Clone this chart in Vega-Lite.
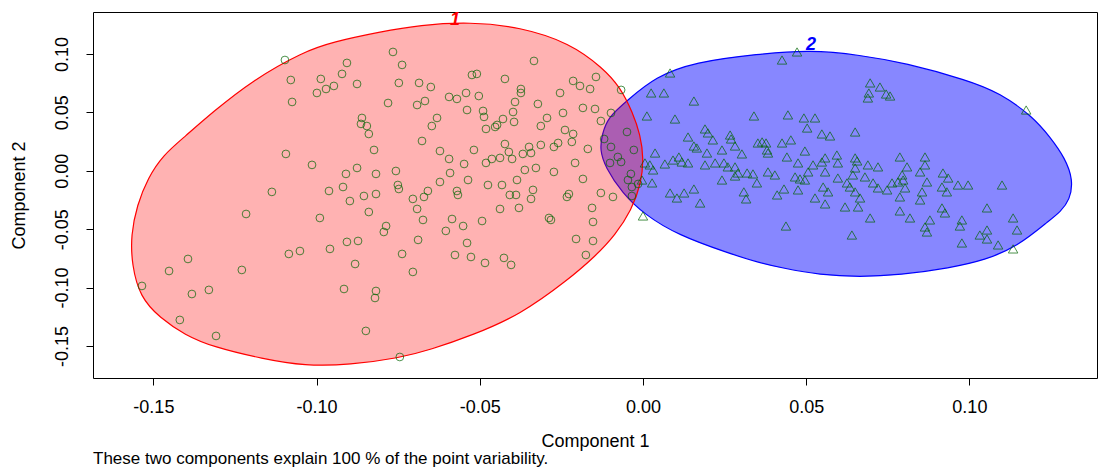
{
  "$schema": "https://vega.github.io/schema/vega-lite/v6.json",
  "width": 1004,
  "height": 366,
  "autosize": {"type": "none"},
  "padding": {"left": 93, "top": 12, "right": 2, "bottom": 94},
  "background": "white",
  "config": {
    "view": {"stroke": "black", "strokeWidth": 1},
    "font": "Liberation Sans",
    "axis": {"grid": false, "domain": false, "tickColor": "black", "tickSize": 7, "labelColor": "black", "titleColor": "black", "labelFont": "Liberation Sans", "titleFont": "Liberation Sans", "labelFontSize": 18, "titleFontSize": 18, "titleFontWeight": "normal"}
  },
  "title": {"text": "These two components explain 100 % of the point variability.", "orient": "bottom", "anchor": "start", "frame": "group", "fontSize": 17, "fontWeight": "normal", "font": "Liberation Sans", "color": "black", "offset": 1},
  "datasets": {
    "ell": [
      {"c":1,"i":0,"x":-0.0530,"y":0.1274},{"c":1,"i":1,"x":-0.0377,"y":0.1231},{"c":1,"i":2,"x":-0.0224,"y":0.1094},{"c":1,"i":3,"x":-0.0123,"y":0.0880},{"c":1,"i":4,"x":-0.0070,"y":0.0717},{"c":1,"i":5,"x":-0.0031,"y":0.0495},{"c":1,"i":6,"x":-0.0008,"y":0.0306},{"c":1,"i":7,"x":0.0002,"y":0.0110},{"c":1,"i":8,"x":-0.0005,"y":-0.0104},{"c":1,"i":9,"x":-0.0035,"y":-0.0336},{"c":1,"i":10,"x":-0.0085,"y":-0.0550},{"c":1,"i":11,"x":-0.0145,"y":-0.0729},{"c":1,"i":12,"x":-0.0230,"y":-0.0935},{"c":1,"i":13,"x":-0.0377,"y":-0.1234},{"c":1,"i":14,"x":-0.0521,"y":-0.1406},{"c":1,"i":15,"x":-0.0653,"y":-0.1534},{"c":1,"i":16,"x":-0.0745,"y":-0.1602},{"c":1,"i":17,"x":-0.0898,"y":-0.1662},{"c":1,"i":18,"x":-0.1036,"y":-0.1671},{"c":1,"i":19,"x":-0.1164,"y":-0.1611},{"c":1,"i":20,"x":-0.1318,"y":-0.1508},{"c":1,"i":21,"x":-0.1403,"y":-0.1406},{"c":1,"i":22,"x":-0.1480,"y":-0.1260},{"c":1,"i":23,"x":-0.1541,"y":-0.1080},{"c":1,"i":24,"x":-0.1566,"y":-0.0806},{"c":1,"i":25,"x":-0.1569,"y":-0.0550},{"c":1,"i":26,"x":-0.1550,"y":-0.0293},{"c":1,"i":27,"x":-0.1517,"y":-0.0062},{"c":1,"i":28,"x":-0.1470,"y":0.0135},{"c":1,"i":29,"x":-0.1405,"y":0.0289},{"c":1,"i":30,"x":-0.1318,"y":0.0503},{"c":1,"i":31,"x":-0.1195,"y":0.0777},{"c":1,"i":32,"x":-0.1042,"y":0.1017},{"c":1,"i":33,"x":-0.0950,"y":0.1103},{"c":1,"i":34,"x":-0.0806,"y":0.1188},{"c":1,"i":35,"x":-0.0683,"y":0.1248},
      {"c":2,"i":0,"x":0.0512,"y":0.1034},{"c":2,"i":1,"x":0.0665,"y":0.0991},{"c":2,"i":2,"x":0.0803,"y":0.0923},{"c":2,"i":3,"x":0.0993,"y":0.0777},{"c":2,"i":4,"x":0.1094,"y":0.0666},{"c":2,"i":5,"x":0.1195,"y":0.0461},{"c":2,"i":6,"x":0.1247,"y":0.0289},{"c":2,"i":7,"x":0.1293,"y":0.0110},{"c":2,"i":8,"x":0.1318,"y":-0.0079},{"c":2,"i":9,"x":0.1308,"y":-0.0250},{"c":2,"i":10,"x":0.1278,"y":-0.0353},{"c":2,"i":11,"x":0.1247,"y":-0.0421},{"c":2,"i":12,"x":0.1146,"y":-0.0652},{"c":2,"i":13,"x":0.1048,"y":-0.0764},{"c":2,"i":14,"x":0.0941,"y":-0.0832},{"c":2,"i":15,"x":0.0787,"y":-0.0892},{"c":2,"i":16,"x":0.0665,"y":-0.0909},{"c":2,"i":17,"x":0.0542,"y":-0.0892},{"c":2,"i":18,"x":0.0426,"y":-0.0832},{"c":2,"i":19,"x":0.0358,"y":-0.0789},{"c":2,"i":20,"x":0.0260,"y":-0.0704},{"c":2,"i":21,"x":0.0107,"y":-0.0550},{"c":2,"i":22,"x":0.0006,"y":-0.0378},{"c":2,"i":23,"x":-0.0064,"y":-0.0190},{"c":2,"i":24,"x":-0.0116,"y":0.0033},{"c":2,"i":25,"x":-0.0132,"y":0.0178},{"c":2,"i":26,"x":-0.0126,"y":0.0306},{"c":2,"i":27,"x":-0.0107,"y":0.0461},{"c":2,"i":28,"x":-0.0046,"y":0.0606},{"c":2,"i":29,"x":0.0037,"y":0.0803},{"c":2,"i":30,"x":0.0159,"y":0.0931},{"c":2,"i":31,"x":0.0352,"y":0.1000}
    ],
    "pts": [
      {"c":1,"x":-0.1097,"y":0.0948},{"c":1,"x":-0.1079,"y":0.0777},{"c":1,"x":-0.1075,"y":0.0589},{"c":1,"x":-0.1094,"y":0.0144},{"c":1,"x":-0.1137,"y":-0.0181},{"c":1,"x":-0.0766,"y":0.1017},{"c":1,"x":-0.0907,"y":0.0923},{"c":1,"x":-0.0738,"y":0.0906},{"c":1,"x":-0.0922,"y":0.0829},{"c":1,"x":-0.0987,"y":0.0786},{"c":1,"x":-0.0947,"y":0.0726},{"c":1,"x":-0.0971,"y":0.0700},{"c":1,"x":-0.0999,"y":0.0666},{"c":1,"x":-0.0876,"y":0.0743},{"c":1,"x":-0.0748,"y":0.0752},{"c":1,"x":-0.0686,"y":0.0752},{"c":1,"x":-0.0650,"y":0.0717},{"c":1,"x":-0.0524,"y":0.0820},{"c":1,"x":-0.0509,"y":0.0829},{"c":1,"x":-0.0542,"y":0.0666},{"c":1,"x":-0.0570,"y":0.0615},{"c":1,"x":-0.0594,"y":0.0632},{"c":1,"x":-0.0668,"y":0.0597},{"c":1,"x":-0.0692,"y":0.0563},{"c":1,"x":-0.0781,"y":0.0580},{"c":1,"x":-0.0539,"y":0.0520},{"c":1,"x":-0.0861,"y":0.0452},{"c":1,"x":-0.0864,"y":0.0401},{"c":1,"x":-0.0846,"y":0.0383},{"c":1,"x":-0.0840,"y":0.0315},{"c":1,"x":-0.0631,"y":0.0452},{"c":1,"x":-0.0647,"y":0.0383},{"c":1,"x":-0.0677,"y":0.0255},{"c":1,"x":-0.0824,"y":0.0178},{"c":1,"x":-0.0622,"y":0.0169},{"c":1,"x":-0.0518,"y":0.0178},{"c":1,"x":-0.1014,"y":0.0050},{"c":1,"x":-0.0876,"y":0.0024},{"c":1,"x":-0.0910,"y":-0.0027},{"c":1,"x":-0.0818,"y":-0.0027},{"c":1,"x":-0.0757,"y":-0.0002},{"c":1,"x":-0.0594,"y":0.0101},{"c":1,"x":-0.0548,"y":0.0058},{"c":1,"x":-0.0591,"y":-0.0019},{"c":1,"x":-0.0622,"y":-0.0096},{"c":1,"x":-0.0536,"y":-0.0079},{"c":1,"x":-0.0751,"y":-0.0122},{"c":1,"x":-0.0748,"y":-0.0156},{"c":1,"x":-0.0919,"y":-0.0139},{"c":1,"x":-0.0962,"y":-0.0173},{"c":1,"x":-0.0855,"y":-0.0216},{"c":1,"x":-0.0818,"y":-0.0199},{"c":1,"x":-0.0898,"y":-0.0259},{"c":1,"x":-0.0705,"y":-0.0241},{"c":1,"x":-0.0671,"y":-0.0224},{"c":1,"x":-0.0659,"y":-0.0173},{"c":1,"x":-0.0570,"y":-0.0173},{"c":1,"x":-0.0567,"y":-0.0207},{"c":1,"x":-0.0334,"y":0.0940},{"c":1,"x":-0.0423,"y":0.0786},{"c":1,"x":-0.0144,"y":0.0803},{"c":1,"x":-0.0214,"y":0.0769},{"c":1,"x":-0.0193,"y":0.0726},{"c":1,"x":-0.0162,"y":0.0700},{"c":1,"x":-0.0067,"y":0.0692},{"c":1,"x":-0.0374,"y":0.0700},{"c":1,"x":-0.0374,"y":0.0666},{"c":1,"x":-0.0254,"y":0.0666},{"c":1,"x":-0.0503,"y":0.0640},{"c":1,"x":-0.0392,"y":0.0589},{"c":1,"x":-0.0322,"y":0.0572},{"c":1,"x":-0.0490,"y":0.0512},{"c":1,"x":-0.0398,"y":0.0503},{"c":1,"x":-0.0245,"y":0.0495},{"c":1,"x":-0.0184,"y":0.0538},{"c":1,"x":-0.0147,"y":0.0529},{"c":1,"x":-0.0098,"y":0.0495},{"c":1,"x":-0.0487,"y":0.0461},{"c":1,"x":-0.0429,"y":0.0443},{"c":1,"x":-0.0294,"y":0.0452},{"c":1,"x":-0.0395,"y":0.0418},{"c":1,"x":-0.0447,"y":0.0392},{"c":1,"x":-0.0453,"y":0.0375},{"c":1,"x":-0.0313,"y":0.0383},{"c":1,"x":-0.0481,"y":0.0358},{"c":1,"x":-0.0239,"y":0.0349},{"c":1,"x":-0.0214,"y":0.0315},{"c":1,"x":-0.0129,"y":0.0426},{"c":1,"x":-0.0119,"y":0.0272},{"c":1,"x":-0.0218,"y":0.0247},{"c":1,"x":-0.0423,"y":0.0229},{"c":1,"x":-0.0349,"y":0.0204},{"c":1,"x":-0.0313,"y":0.0221},{"c":1,"x":-0.0273,"y":0.0204},{"c":1,"x":-0.0260,"y":0.0238},{"c":1,"x":-0.0169,"y":0.0187},{"c":1,"x":-0.0098,"y":0.0204},{"c":1,"x":-0.0411,"y":0.0161},{"c":1,"x":-0.0343,"y":0.0152},{"c":1,"x":-0.0368,"y":0.0144},{"c":1,"x":-0.0401,"y":0.0101},{"c":1,"x":-0.0438,"y":0.0110},{"c":1,"x":-0.0463,"y":0.0101},{"c":1,"x":-0.0481,"y":0.0067},{"c":1,"x":-0.0028,"y":0.0178},{"c":1,"x":-0.0067,"y":0.0075},{"c":1,"x":-0.0208,"y":0.0067},{"c":1,"x":-0.0328,"y":0.0024},{"c":1,"x":-0.0362,"y":0.0007},{"c":1,"x":-0.0273,"y":-0.0010},{"c":1,"x":-0.0475,"y":-0.0122},{"c":1,"x":-0.0432,"y":-0.0122},{"c":1,"x":-0.0386,"y":-0.0079},{"c":1,"x":-0.0337,"y":-0.0164},{"c":1,"x":-0.0408,"y":-0.0207},{"c":1,"x":-0.0389,"y":-0.0207},{"c":1,"x":-0.0343,"y":-0.0241},{"c":1,"x":-0.0184,"y":-0.0070},{"c":1,"x":-0.0227,"y":-0.0199},{"c":1,"x":-0.0233,"y":-0.0224},{"c":1,"x":-0.0129,"y":-0.0190},{"c":1,"x":-0.0034,"y":-0.0139},{"c":1,"x":-0.0037,"y":-0.0027},{"c":1,"x":-0.0092,"y":-0.0224},{"c":1,"x":-0.0034,"y":-0.0216},{"c":1,"x":-0.1216,"y":-0.0370},{"c":1,"x":-0.1394,"y":-0.0755},{"c":1,"x":-0.1452,"y":-0.0858},{"c":1,"x":-0.1535,"y":-0.0986},{"c":1,"x":-0.1382,"y":-0.1055},{"c":1,"x":-0.1330,"y":-0.1020},{"c":1,"x":-0.1229,"y":-0.0849},{"c":1,"x":-0.1085,"y":-0.0712},{"c":1,"x":-0.1051,"y":-0.0687},{"c":1,"x":-0.1419,"y":-0.1277},{"c":1,"x":-0.1308,"y":-0.1414},{"c":1,"x":-0.0990,"y":-0.0404},{"c":1,"x":-0.0840,"y":-0.0353},{"c":1,"x":-0.0692,"y":-0.0327},{"c":1,"x":-0.0674,"y":-0.0421},{"c":1,"x":-0.0585,"y":-0.0413},{"c":1,"x":-0.0604,"y":-0.0515},{"c":1,"x":-0.0551,"y":-0.0473},{"c":1,"x":-0.0787,"y":-0.0473},{"c":1,"x":-0.0794,"y":-0.0524},{"c":1,"x":-0.0959,"y":-0.0669},{"c":1,"x":-0.0907,"y":-0.0609},{"c":1,"x":-0.0873,"y":-0.0601},{"c":1,"x":-0.0689,"y":-0.0592},{"c":1,"x":-0.0539,"y":-0.0618},{"c":1,"x":-0.0738,"y":-0.0712},{"c":1,"x":-0.0576,"y":-0.0721},{"c":1,"x":-0.0527,"y":-0.0738},{"c":1,"x":-0.0882,"y":-0.0798},{"c":1,"x":-0.0705,"y":-0.0866},{"c":1,"x":-0.0916,"y":-0.1012},{"c":1,"x":-0.0818,"y":-0.1029},{"c":1,"x":-0.0821,"y":-0.1089},{"c":1,"x":-0.0849,"y":-0.1371},{"c":1,"x":-0.0745,"y":-0.1594},{"c":1,"x":-0.0438,"y":-0.0327},{"c":1,"x":-0.0380,"y":-0.0318},{"c":1,"x":-0.0156,"y":-0.0318},{"c":1,"x":-0.0493,"y":-0.0430},{"c":1,"x":-0.0288,"y":-0.0404},{"c":1,"x":-0.0282,"y":-0.0421},{"c":1,"x":-0.0153,"y":-0.0438},{"c":1,"x":-0.0205,"y":-0.0584},{"c":1,"x":-0.0153,"y":-0.0601},{"c":1,"x":-0.0426,"y":-0.0746},{"c":1,"x":-0.0484,"y":-0.0789},{"c":1,"x":-0.0404,"y":-0.0806},{"c":1,"x":-0.0175,"y":-0.0721},{"c":1,"x":-0.0049,"y":0.0332},{"c":1,"x":-0.0077,"y":0.0118},{"c":1,"x":-0.0046,"y":-0.0079},{"c":1,"x":-0.0015,"y":-0.0113},{"c":1,"x":-0.0101,"y":0.0067},
      {"c":2,"x":0.0083,"y":0.0837},{"c":2,"x":0.0025,"y":0.0666},{"c":2,"x":0.0064,"y":0.0666},{"c":2,"x":0.0156,"y":0.0597},{"c":2,"x":0.0012,"y":0.0469},{"c":2,"x":0.0098,"y":0.0443},{"c":2,"x":0.0340,"y":0.0469},{"c":2,"x":0.0190,"y":0.0358},{"c":2,"x":0.0199,"y":0.0324},{"c":2,"x":0.0138,"y":0.0289},{"c":2,"x":0.0267,"y":0.0306},{"c":2,"x":0.0270,"y":0.0272},{"c":2,"x":0.0214,"y":0.0264},{"c":2,"x":0.0156,"y":0.0212},{"c":2,"x":0.0165,"y":0.0195},{"c":2,"x":0.0242,"y":0.0178},{"c":2,"x":0.0282,"y":0.0212},{"c":2,"x":0.0303,"y":0.0144},{"c":2,"x":0.0196,"y":0.0152},{"c":2,"x":0.0037,"y":0.0152},{"c":2,"x":0.0110,"y":0.0118},{"c":2,"x":0.0352,"y":0.0238},{"c":2,"x":0.0472,"y":0.1017},{"c":2,"x":0.0426,"y":0.0948},{"c":2,"x":0.0696,"y":0.0752},{"c":2,"x":0.0726,"y":0.0717},{"c":2,"x":0.0692,"y":0.0666},{"c":2,"x":0.0689,"y":0.0623},{"c":2,"x":0.0745,"y":0.0657},{"c":2,"x":0.0757,"y":0.0640},{"c":2,"x":0.0444,"y":0.0478},{"c":2,"x":0.0493,"y":0.0452},{"c":2,"x":0.0527,"y":0.0452},{"c":2,"x":0.0503,"y":0.0366},{"c":2,"x":0.0548,"y":0.0315},{"c":2,"x":0.0573,"y":0.0298},{"c":2,"x":0.0650,"y":0.0332},{"c":2,"x":0.0365,"y":0.0247},{"c":2,"x":0.0377,"y":0.0238},{"c":2,"x":0.0426,"y":0.0238},{"c":2,"x":0.0453,"y":0.0264},{"c":2,"x":0.0380,"y":0.0178},{"c":2,"x":0.0383,"y":0.0152},{"c":2,"x":0.0496,"y":0.0169},{"c":2,"x":0.0441,"y":0.0118},{"c":2,"x":0.0594,"y":0.0135},{"c":2,"x":0.0558,"y":0.0110},{"c":2,"x":0.0650,"y":0.0110},{"c":2,"x":0.1174,"y":0.0520},{"c":2,"x":0.0864,"y":0.0118},{"c":2,"x":0.0006,"y":0.0067},{"c":2,"x":0.0021,"y":0.0050},{"c":2,"x":0.0031,"y":0.0007},{"c":2,"x":0.0067,"y":0.0058},{"c":2,"x":0.0092,"y":0.0092},{"c":2,"x":0.0119,"y":0.0075},{"c":2,"x":0.0138,"y":0.0067},{"c":2,"x":0.0190,"y":0.0050},{"c":2,"x":0.0221,"y":0.0067},{"c":2,"x":0.0248,"y":0.0067},{"c":2,"x":0.0260,"y":0.0033},{"c":2,"x":0.0282,"y":0.0033},{"c":2,"x":0.0242,"y":-0.0079},{"c":2,"x":0.0282,"y":-0.0045},{"c":2,"x":0.0291,"y":-0.0019},{"c":2,"x":0.0337,"y":-0.0027},{"c":2,"x":0.0319,"y":-0.0019},{"c":2,"x":0.0349,"y":-0.0104},{"c":2,"x":0.0028,"y":-0.0104},{"c":2,"x":-0.0003,"y":-0.0079},{"c":2,"x":0.0083,"y":-0.0190},{"c":2,"x":0.0104,"y":-0.0233},{"c":2,"x":0.0126,"y":-0.0190},{"c":2,"x":0.0156,"y":-0.0156},{"c":2,"x":0.0175,"y":-0.0276},{"c":2,"x":0.0309,"y":-0.0181},{"c":2,"x":0.0316,"y":-0.0241},{"c":2,"x":0.0000,"y":-0.0387},{"c":2,"x":0.0475,"y":0.0067},{"c":2,"x":0.0383,"y":-0.0010},{"c":2,"x":0.0404,"y":-0.0036},{"c":2,"x":0.0432,"y":-0.0156},{"c":2,"x":0.0411,"y":-0.0207},{"c":2,"x":0.0475,"y":-0.0164},{"c":2,"x":0.0466,"y":-0.0053},{"c":2,"x":0.0481,"y":-0.0070},{"c":2,"x":0.0496,"y":-0.0079},{"c":2,"x":0.0506,"y":-0.0010},{"c":2,"x":0.0521,"y":0.0050},{"c":2,"x":0.0548,"y":0.0075},{"c":2,"x":0.0558,"y":-0.0010},{"c":2,"x":0.0597,"y":0.0067},{"c":2,"x":0.0597,"y":-0.0062},{"c":2,"x":0.0552,"y":-0.0139},{"c":2,"x":0.0567,"y":-0.0181},{"c":2,"x":0.0527,"y":-0.0233},{"c":2,"x":0.0558,"y":-0.0284},{"c":2,"x":0.0625,"y":-0.0104},{"c":2,"x":0.0656,"y":0.0084},{"c":2,"x":0.0650,"y":0.0024},{"c":2,"x":0.0643,"y":-0.0036},{"c":2,"x":0.0634,"y":-0.0139},{"c":2,"x":0.0650,"y":-0.0181},{"c":2,"x":0.0689,"y":0.0050},{"c":2,"x":0.0720,"y":0.0033},{"c":2,"x":0.0680,"y":-0.0053},{"c":2,"x":0.0705,"y":-0.0104},{"c":2,"x":0.0720,"y":-0.0147},{"c":2,"x":0.0748,"y":-0.0164},{"c":2,"x":0.0763,"y":-0.0104},{"c":2,"x":0.0781,"y":-0.0096},{"c":2,"x":0.0794,"y":-0.0036},{"c":2,"x":0.0787,"y":-0.0224},{"c":2,"x":0.0619,"y":-0.0310},{"c":2,"x":0.0659,"y":-0.0310},{"c":2,"x":0.0665,"y":-0.0233},{"c":2,"x":0.0696,"y":-0.0404},{"c":2,"x":0.0438,"y":-0.0473},{"c":2,"x":0.0640,"y":-0.0550},{"c":2,"x":0.0787,"y":-0.0344},{"c":2,"x":0.0864,"y":0.0050},{"c":2,"x":0.0809,"y":0.0033},{"c":2,"x":0.0849,"y":-0.0010},{"c":2,"x":0.0797,"y":-0.0079},{"c":2,"x":0.0870,"y":-0.0096},{"c":2,"x":0.0803,"y":-0.0147},{"c":2,"x":0.0855,"y":-0.0181},{"c":2,"x":0.0849,"y":-0.0250},{"c":2,"x":0.0919,"y":-0.0019},{"c":2,"x":0.0935,"y":-0.0062},{"c":2,"x":0.0916,"y":-0.0139},{"c":2,"x":0.0931,"y":-0.0181},{"c":2,"x":0.0965,"y":-0.0122},{"c":2,"x":0.0996,"y":-0.0122},{"c":2,"x":0.1100,"y":-0.0122},{"c":2,"x":0.0916,"y":-0.0318},{"c":2,"x":0.0925,"y":-0.0361},{"c":2,"x":0.1054,"y":-0.0318},{"c":2,"x":0.0818,"y":-0.0404},{"c":2,"x":0.0879,"y":-0.0421},{"c":2,"x":0.0864,"y":-0.0481},{"c":2,"x":0.0870,"y":-0.0524},{"c":2,"x":0.0977,"y":-0.0421},{"c":2,"x":0.0971,"y":-0.0473},{"c":2,"x":0.1134,"y":-0.0404},{"c":2,"x":0.1146,"y":-0.0507},{"c":2,"x":0.1032,"y":-0.0550},{"c":2,"x":0.1054,"y":-0.0507},{"c":2,"x":0.1054,"y":-0.0584},{"c":2,"x":0.0977,"y":-0.0618},{"c":2,"x":0.1088,"y":-0.0635},{"c":2,"x":0.1134,"y":-0.0669},{"c":2,"x":0.0787,"y":0.0118}
    ],
    "lab": [
      {"c":1,"x":-0.0576,"y":0.1291,"t":"1"},
      {"c":2,"x":0.0515,"y":0.1077,"t":"2"}
    ]
  },
  "encoding": {
    "x": {"field": "x", "type": "quantitative", "scale": {"domain": [-0.1685, 0.1391], "nice": false, "zero": false},
      "axis": {"values": [-0.15, -0.1, -0.05, 0, 0.05, 0.1], "labelExpr": "datum.value < 0 ? '-' + format(-datum.value, '.2f') : format(datum.value, '.2f')", "title": "Component 1", "labelPadding": 13, "titlePadding": 16}},
    "y": {"field": "y", "type": "quantitative", "scale": {"domain": [-0.1774, 0.1359], "nice": false, "zero": false},
      "axis": {"values": [-0.15, -0.1, -0.05, 0, 0.05, 0.1], "labelExpr": "datum.value < 0 ? '-' + format(-datum.value, '.2f') : format(datum.value, '.2f')", "title": "Component 2", "labelAngle": -90, "labelAlign": "center", "labelBaseline": "bottom", "labelPadding": 15, "titlePadding": 25}}
  },
  "layer": [
    {"data": {"name": "ell"}, "transform": [{"filter": "datum.c == 2"}],
     "mark": {"type": "line", "interpolate": "basis-closed", "stroke": "#0000ff", "strokeWidth": 1.2, "fill": "#0000ff", "fillOpacity": 0.47},
     "encoding": {"order": {"field": "i", "type": "quantitative"}}},
    {"data": {"name": "ell"}, "transform": [{"filter": "datum.c == 1"}],
     "mark": {"type": "line", "interpolate": "basis-closed", "stroke": "#ff0000", "strokeWidth": 1.2, "fill": "#ff0000", "fillOpacity": 0.3},
     "encoding": {"order": {"field": "i", "type": "quantitative"}}},
    {"data": {"name": "pts"}, "transform": [{"filter": "datum.c == 1"}],
     "mark": {"type": "point", "shape": "circle", "filled": false, "stroke": "#006400", "strokeWidth": 1, "size": 60}},
    {"data": {"name": "pts"}, "transform": [{"filter": "datum.c == 2"}],
     "mark": {"type": "point", "shape": "triangle-up", "filled": false, "stroke": "#006400", "strokeWidth": 1, "size": 90}},
    {"data": {"name": "lab"},
     "mark": {"type": "text", "fontSize": 18, "fontStyle": "italic", "fontWeight": "bold", "baseline": "middle", "align": "center"},
     "encoding": {"text": {"field": "t"}, "color": {"field": "c", "type": "nominal", "scale": {"domain": [1, 2], "range": ["#ff0000", "#0000ff"]}, "legend": null}}}
  ]
}
